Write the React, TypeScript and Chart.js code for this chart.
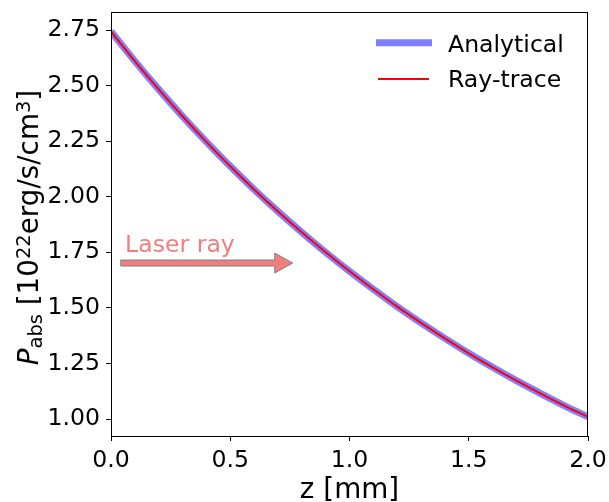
import React, { useEffect, useRef } from "react";
import { Chart, registerables } from "chart.js";

Chart.register(...registerables);

const zValues = [0, 0.1, 0.2, 0.3, 0.4, 0.5, 0.6, 0.7, 0.8, 0.9, 1.0, 1.1, 1.2, 1.3, 1.4, 1.5, 1.6, 1.7, 1.8, 1.9, 2.0];
const analytical = [2.744, 2.61, 2.483, 2.362, 2.247, 2.137, 2.033, 1.934, 1.84, 1.75, 1.665, 1.584, 1.506, 1.433, 1.363, 1.296, 1.233, 1.173, 1.116, 1.061, 1.01];
const rayTrace = [2.744, 2.61, 2.483, 2.362, 2.247, 2.137, 2.033, 1.934, 1.84, 1.75, 1.665, 1.584, 1.506, 1.433, 1.363, 1.296, 1.233, 1.173, 1.116, 1.061, 1.01];
const xTicks = [0, 0.5, 1.0, 1.5, 2.0];
const yTicks = [1.0, 1.25, 1.5, 1.75, 2.0, 2.25, 2.5, 2.75];
const xRange = [0, 2];
const yRange = [0.924, 2.831];
const arrowTail = [0.041, 1.702];
const arrowTip = [0.762, 1.702];
const laserLabelPos = [0.059, 1.75];
const laserLabel = "Laser ray";
const seriesNames = ["Analytical", "Ray-trace"];

const FONT = "DejaVu Sans";
const TICK = 23.6;
const LABEL = 27.8;
const BLUE = "rgba(0,0,255,0.5)";

const overlay = {
  id: "overlay",
  afterDatasetsDraw(chart: any) {
    const { ctx, chartArea: a } = chart;
    ctx.save();
    ctx.strokeStyle = "#000";
    ctx.lineWidth = 1;
    ctx.strokeRect(a.left + 0.5, a.top + 0.5, a.right - a.left - 1, a.bottom - a.top);
    ctx.restore();
  },
  afterDraw(chart: any) {
    const { ctx, chartArea: a, scales } = chart;
    const xs = scales.x;
    const ys = scales.y;
    ctx.save();

    // annotation arrow
    const tx = xs.getPixelForValue(arrowTail[0]);
    const ty = ys.getPixelForValue(arrowTail[1]);
    const px = xs.getPixelForValue(arrowTip[0]);
    const hw = 3, headW = 10, headL = 18;
    ctx.beginPath();
    ctx.moveTo(tx, ty - hw);
    ctx.lineTo(px - headL, ty - hw);
    ctx.lineTo(px - headL, ty - headW);
    ctx.lineTo(px, ty);
    ctx.lineTo(px - headL, ty + headW);
    ctx.lineTo(px - headL, ty + hw);
    ctx.lineTo(tx, ty + hw);
    ctx.closePath();
    ctx.fillStyle = "#f08080";
    ctx.fill();
    ctx.strokeStyle = "#808080";
    ctx.lineWidth = 1;
    ctx.stroke();

    ctx.font = `${TICK}px "${FONT}"`;
    ctx.fillStyle = "#f08080";
    ctx.textAlign = "left";
    ctx.textBaseline = "alphabetic";
    ctx.fillText(laserLabel, xs.getPixelForValue(laserLabelPos[0]), ys.getPixelForValue(laserLabelPos[1]));

    // legend
    ctx.lineCap = "butt";
    ctx.strokeStyle = BLUE;
    ctx.lineWidth = 7;
    ctx.beginPath();
    ctx.moveTo(376, 42.7);
    ctx.lineTo(432, 42.7);
    ctx.stroke();
    ctx.strokeStyle = "red";
    ctx.lineWidth = 2;
    ctx.beginPath();
    ctx.moveTo(378, 79);
    ctx.lineTo(429, 79);
    ctx.stroke();
    ctx.fillStyle = "#000";
    ctx.fillText(seriesNames[0], 448, 52);
    ctx.fillText(seriesNames[1], 448, 87);

    // x title
    ctx.font = `${LABEL}px "${FONT}"`;
    ctx.textAlign = "center";
    ctx.fillText("z [mm]", (a.left + a.right) / 2, 498);

    // y title with sub/superscripts
    const big = `${LABEL}px "${FONT}"`;
    const small = `${LABEL * 0.7}px "${FONT}"`;
    const segs = [
      { t: "P", f: `italic ${LABEL}px "${FONT}"`, dy: 0 },
      { t: "abs", f: small, dy: 4 },
      { t: " [10", f: big, dy: 0 },
      { t: "22", f: small, dy: -8 },
      { t: "erg/s/cm", f: big, dy: 0 },
      { t: "3", f: small, dy: -8 },
      { t: "]", f: big, dy: 0 },
    ];
    let total = 0;
    const widths = segs.map((s) => {
      ctx.font = s.f;
      const w = ctx.measureText(s.t).width;
      total += w;
      return w;
    });
    ctx.translate(38, 227.5);
    ctx.rotate(-Math.PI / 2);
    ctx.textAlign = "left";
    let x = -total / 2;
    segs.forEach((s, i) => {
      ctx.font = s.f;
      ctx.fillText(s.t, x, s.dy);
      x += widths[i];
    });
    ctx.restore();
  },
};

export default function App() {
  const ref = useRef<HTMLCanvasElement | null>(null);
  useEffect(() => {
    if (!ref.current) return;
    const chart = new Chart(ref.current, {
      type: "line",
      data: {
        datasets: [
          {
            label: seriesNames[0],
            data: zValues.map((z, i) => ({ x: z, y: analytical[i] })),
            borderColor: BLUE,
            borderWidth: 7,
            pointRadius: 0,
            cubicInterpolationMode: "monotone",
            clip: 0,
            order: 1,
          },
          {
            label: seriesNames[1],
            data: zValues.map((z, i) => ({ x: z, y: rayTrace[i] })),
            borderColor: "red",
            borderWidth: 2,
            pointRadius: 0,
            cubicInterpolationMode: "monotone",
            clip: 0,
            order: 0,
          },
        ],
      },
      options: {
        responsive: false,
        animation: false,
        layout: { padding: { top: 12, right: 21, left: 0, bottom: 0 } },
        plugins: { legend: { display: false }, tooltip: { enabled: false }, title: { display: false } },
        scales: {
          x: {
            type: "linear",
            min: xRange[0],
            max: xRange[1],
            afterBuildTicks: (s: any) => {
              s.ticks = xTicks.map((v) => ({ value: v }));
            },
            afterFit: (s: any) => {
              s.height = 66;
              s.paddingLeft = 0;
              s.paddingRight = 0;
              s.paddingTop = 0;
              s.paddingBottom = 0;
            },
            ticks: {
              color: "#000",
              font: { family: FONT, size: TICK },
              padding: 6,
              maxRotation: 0,
              autoSkip: false,
              callback: (v: any) => Number(v).toFixed(1),
            },
            grid: { drawOnChartArea: false, drawTicks: true, tickLength: 5, color: "#000", lineWidth: 1 },
            border: { display: false },
          },
          y: {
            type: "linear",
            min: yRange[0],
            max: yRange[1],
            afterBuildTicks: (s: any) => {
              s.ticks = yTicks.map((v) => ({ value: v }));
            },
            afterFit: (s: any) => {
              s.width = 111;
              s.paddingLeft = 0;
              s.paddingRight = 0;
              s.paddingTop = 0;
              s.paddingBottom = 0;
            },
            ticks: {
              color: "#000",
              font: { family: FONT, size: TICK },
              padding: 6,
              autoSkip: false,
              callback: (v: any) => Number(v).toFixed(2),
            },
            grid: { drawOnChartArea: false, drawTicks: true, tickLength: 5, color: "#000", lineWidth: 1 },
            border: { display: false },
          },
        },
      },
      plugins: [overlay],
    });
    return () => chart.destroy();
  }, []);
  return (
    <div style={{ position: "absolute", left: 0, top: 0, width: 609, height: 502, background: "#fff" }}>
      <canvas ref={ref} width={609} height={502} style={{ width: 609, height: 502, display: "block" }} />
    </div>
  );
}
